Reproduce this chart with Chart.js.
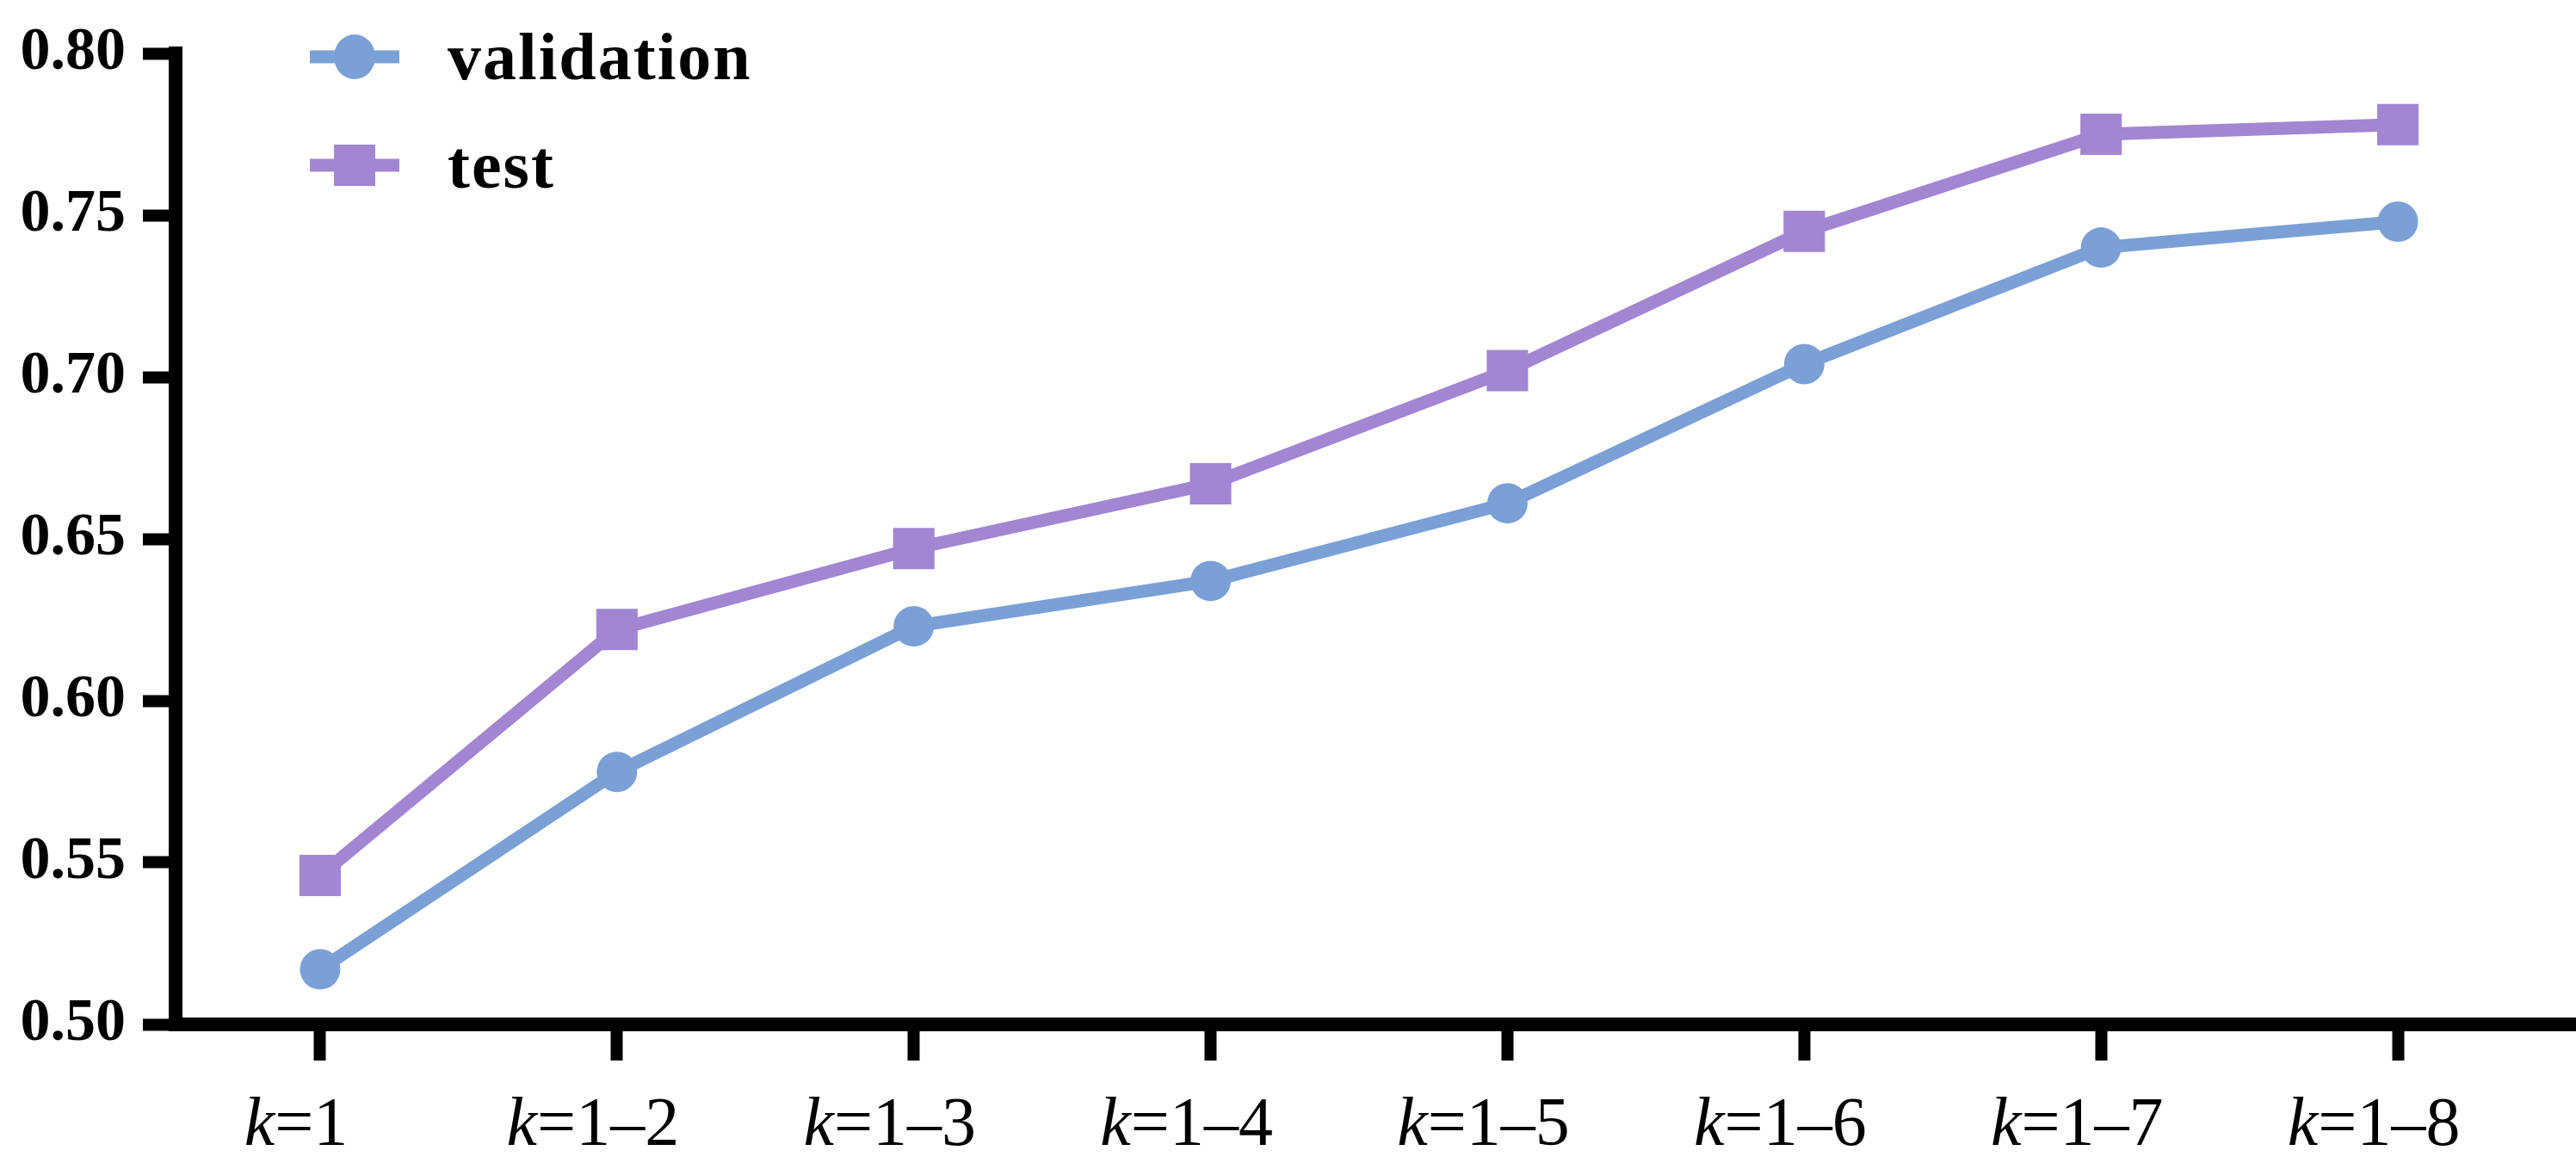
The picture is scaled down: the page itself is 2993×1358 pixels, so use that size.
<!DOCTYPE html>
<html>
<head>
<meta charset="utf-8">
<script src="https://cdn.jsdelivr.net/npm/chart.js@4/dist/chart.umd.min.js"></script>
<style>
    html, body { margin: 0; padding: 0; background: #fff; }
    #wrap { width: 2993px; height: 1358px; }
</style>
</head>
<body>
<div id="wrap"><canvas id="chart" width="2993" height="1358"></canvas></div>
<script>
const categories = ['k=1', 'k=1–2', 'k=1–3', 'k=1–4', 'k=1–5', 'k=1–6', 'k=1–7', 'k=1–8'];
const validation = [0.517, 0.578, 0.623, 0.637, 0.661, 0.704, 0.740, 0.748];
const test = [0.546, 0.622, 0.647, 0.667, 0.702, 0.745, 0.775, 0.778];
const yTicks = [0.50, 0.55, 0.60, 0.65, 0.70, 0.75, 0.80];

const blue = '#7BA0D6';
const purple = '#A286D2';

function points(values) {
    return values.map((v, i) => ({ x: i, y: v }));
}

// x labels: italic k, the rest upright
const xLabelPlugin = {
    id: 'xLabels',
    afterDraw(chart) {
        const ctx = chart.ctx;
        const scale = chart.scales.x;
        ctx.save();
        ctx.fillStyle = '#000';
        ctx.textBaseline = 'alphabetic';
        ctx.textAlign = 'left';
        categories.forEach((label, i) => {
            const head = label.slice(0, 1);
            const rest = label.slice(1);
            ctx.font = 'italic 80px "Liberation Serif"';
            const w1 = ctx.measureText(head).width;
            ctx.font = '80px "Liberation Serif"';
            const w2 = ctx.measureText(rest).width;
            let x = scale.getPixelForValue(i) - 28 - (w1 + w2) / 2;
            ctx.font = 'italic 80px "Liberation Serif"';
            ctx.fillText(head, x, 1330);
            ctx.font = '80px "Liberation Serif"';
            ctx.fillText(rest, x + w1, 1330);
        });
        ctx.restore();
    }
};

// legend with line through marker, inside the plot
const legendPlugin = {
    id: 'lineLegend',
    afterDraw(chart) {
        const ctx = chart.ctx;
        ctx.save();
        chart.data.datasets.forEach((ds, i) => {
            const y = 66 + i * 126;
            ctx.strokeStyle = ds.borderColor;
            ctx.lineWidth = 15;
            ctx.beginPath();
            ctx.moveTo(360, y);
            ctx.lineTo(464, y);
            ctx.stroke();
            ctx.fillStyle = ds.borderColor;
            if (ds.pointStyle === 'rect') {
                ctx.fillRect(412 - 24, y - 24, 48, 48);
            } else {
                ctx.beginPath();
                ctx.ellipse(412, y, 24, 26, 0, 0, Math.PI * 2);
                ctx.fill();
            }
            ctx.fillStyle = '#000';
            ctx.font = 'bold 78px "Liberation Serif"';
            ctx.letterSpacing = '2px';
            ctx.textBaseline = 'alphabetic';
            ctx.fillText(ds.label, 520, y + 26);
        });
        ctx.restore();
    }
};

Chart.defaults.font.family = '"Liberation Serif", serif';
Chart.defaults.color = '#000';

new Chart(document.getElementById('chart'), {
    type: 'line',
    data: {
        datasets: [
            {
                label: 'validation',
                data: points(validation),
                borderColor: blue,
                backgroundColor: blue,
                borderWidth: 15,
                pointStyle: 'circle',
                pointRadius: 23.5,
                pointHoverRadius: 23.5,
                pointBorderWidth: 0,
                tension: 0
            },
            {
                label: 'test',
                data: points(test),
                borderColor: purple,
                backgroundColor: purple,
                borderWidth: 15,
                pointStyle: 'rect',
                pointRadius: 34,
                pointHoverRadius: 34,
                pointBorderWidth: 0,
                tension: 0
            }
        ]
    },
    options: {
        responsive: false,
        animation: false,
        devicePixelRatio: 1,
        layout: { autoPadding: false, padding: { top: 55, left: 0, right: 0, bottom: 0 } },
        plugins: {
            legend: { display: false },
            tooltip: { enabled: false }
        },
        scales: {
            x: {
                type: 'linear',
                min: -0.487,
                max: 7.6,
                afterBuildTicks: scale => {
                    scale.ticks = categories.map((c, i) => ({ value: i }));
                },
                afterFit: scale => { scale.height = 168; },
                border: { display: true, color: '#000', width: 16 },
                grid: {
                    drawOnChartArea: false,
                    drawTicks: true,
                    tickLength: 42,
                    tickWidth: 14,
                    tickColor: '#000'
                },
                ticks: {
                    color: 'rgba(0,0,0,0)',
                    font: { size: 1 },
                    maxRotation: 0,
                    callback: () => ''
                }
            },
            y: {
                min: 0.5,
                max: 0.8,
                afterBuildTicks: scale => {
                    scale.ticks = yTicks.map(v => ({ value: v }));
                },
                afterFit: scale => { scale.width = 204; },
                border: { display: true, color: '#000', width: 16 },
                grid: {
                    drawOnChartArea: false,
                    drawTicks: true,
                    tickLength: 38,
                    tickWidth: 14,
                    tickColor: '#000'
                },
                ticks: {
                    padding: 20,
                    font: { size: 70, weight: 'bold' },
                    callback: v => v.toFixed(2)
                }
            }
        }
    },
    plugins: [xLabelPlugin, legendPlugin]
});
</script>
</body>
</html>
